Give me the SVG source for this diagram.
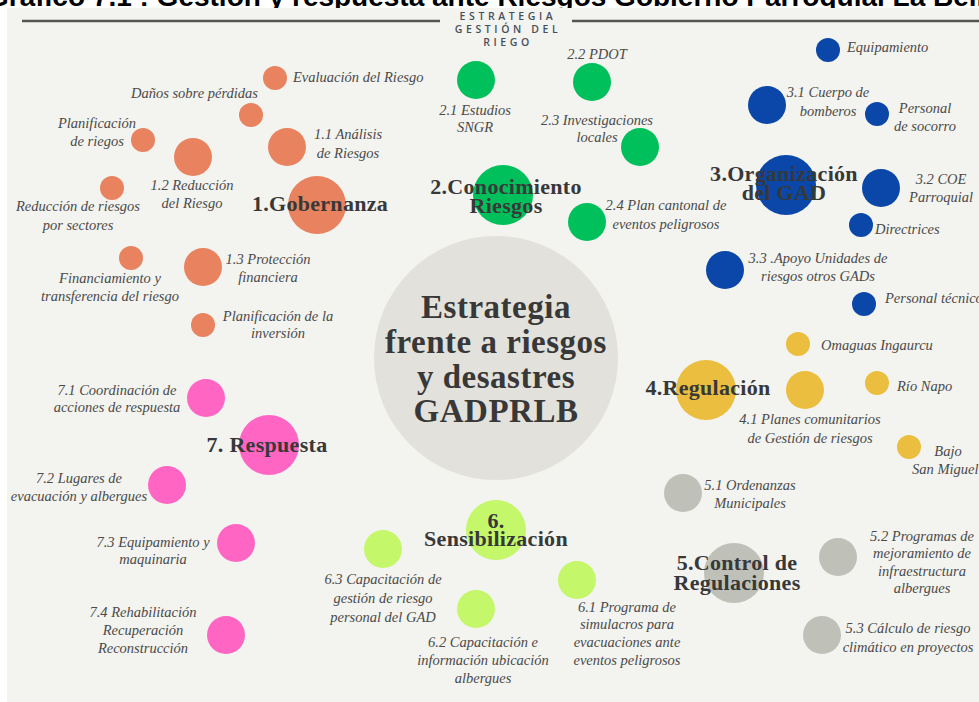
<svg xmlns="http://www.w3.org/2000/svg" width="979" height="702" viewBox="0 0 979 702">
<style>
.lbl{font-family:"Liberation Serif",serif;font-style:italic;font-size:14.5px;fill:#4a4a4a}
.m{text-anchor:middle}
.e{text-anchor:end}
.big{font-family:"Liberation Serif",serif;font-weight:bold;font-size:22px;fill:#383838;letter-spacing:0.3px;text-anchor:middle}
.ctr{font-family:"Liberation Serif",serif;font-weight:bold;font-size:33px;fill:#383838;letter-spacing:0.5px;text-anchor:middle}
.hdr{font-family:"Open Sans","Liberation Sans",sans-serif;font-weight:600;font-size:10.5px;fill:#47505a;letter-spacing:3.6px;text-anchor:middle}
.o{fill:#e8825f}.g{fill:#00c05c}.b{fill:#0a47a8}.y{fill:#ecbe3f}.gr{fill:#bfc0b7}.l{fill:#c4f76a}.p{fill:#ff66c4}
</style>
<rect width="979" height="702" fill="#ffffff"/>
<text x="-13" y="6" font-family="Liberation Sans, Arial, sans-serif" font-weight="bold" font-size="28" fill="#000">Gráfico 7.1 : Gestión y respuesta ante Riesgos Gobierno Parroquial La Belleza</text>
<rect x="7" y="8" width="972" height="694" fill="#f3f3ef"/>
<g id="header">
<line x1="22" y1="21" x2="440" y2="21" stroke="#555" stroke-width="2.5"/>
<line x1="572" y1="21" x2="979" y2="21" stroke="#555" stroke-width="2.5"/>
<text class="hdr" x="508" y="20">ESTRATEGIA</text>
<text class="hdr" x="508" y="33">GESTIÓN DEL</text>
<text class="hdr" x="508" y="46">RIEGO</text>
</g>
<g id="connectors"/>
<g id="center">
<circle cx="496" cy="358" r="122" fill="#e3e1db"/>
<text class="ctr" x="496" y="318">Estrategia</text>
<text class="ctr" x="496" y="353">frente a riesgos</text>
<text class="ctr" x="496" y="388">y desastres</text>
<text class="ctr" x="496" y="422">GADPRLB</text>
</g>
<!-- Orange -->
<g id="evaluacion"><circle class="o" cx="275" cy="78" r="12"/><text class="lbl" x="293" y="82">Evaluación del Riesgo</text></g>
<g id="danos"><circle class="o" cx="251" cy="115" r="12"/><text class="lbl e" x="258" y="98">Daños sobre pérdidas</text></g>
<g id="planificacion-riegos"><circle class="o" cx="143" cy="140" r="12"/><text class="lbl m" x="97" y="128">Planificación</text><text class="lbl m" x="97" y="146">de riegos</text></g>
<g id="n1-1"><circle class="o" cx="287" cy="147" r="19"/><text class="lbl m" x="348" y="139">1.1 Análisis</text><text class="lbl m" x="348" y="158">de Riesgos</text></g>
<g id="n1-2"><circle class="o" cx="193" cy="157" r="19"/><text class="lbl m" x="192" y="190">1.2 Reducción</text><text class="lbl m" x="192" y="208">del Riesgo</text></g>
<g id="reduccion-sectores"><circle class="o" cx="112" cy="188" r="12"/><text class="lbl m" x="78" y="211">Reducción de riesgos</text><text class="lbl m" x="78" y="230">por sectores</text></g>
<g id="n1"><circle class="o" cx="317" cy="205" r="29"/><text class="big" x="320" y="211">1.Gobernanza</text></g>
<g id="financiamiento"><circle class="o" cx="131" cy="258" r="12"/><text class="lbl m" x="110" y="283">Financiamiento y</text><text class="lbl m" x="110" y="301">transferencia del riesgo</text></g>
<g id="n1-3"><circle class="o" cx="203" cy="267" r="19"/><text class="lbl m" x="268" y="264">1.3 Protección</text><text class="lbl m" x="268" y="282">financiera</text></g>
<g id="planificacion-inversion"><circle class="o" cx="203" cy="325" r="12"/><text class="lbl m" x="278" y="321">Planificación de la</text><text class="lbl m" x="278" y="338">inversión</text></g>
<!-- Green -->
<g id="n2-1"><circle class="g" cx="476" cy="80" r="19"/><text class="lbl m" x="475" y="115">2.1 Estudios</text><text class="lbl m" x="475" y="132">SNGR</text></g>
<g id="n2-2"><circle class="g" cx="592" cy="82" r="19"/><text class="lbl m" x="597" y="59">2.2 PDOT</text></g>
<g id="n2-3"><circle class="g" cx="640" cy="147" r="19"/><text class="lbl m" x="597" y="125">2.3 Investigaciones</text><text class="lbl m" x="597" y="142">locales</text></g>
<g id="n2"><circle class="g" cx="503" cy="195" r="30"/><text class="big" x="506" y="194">2.Conocimiento</text><text class="big" x="506" y="213">Riesgos</text></g>
<g id="n2-4"><circle class="g" cx="587" cy="222" r="19"/><text class="lbl m" x="666" y="210">2.4 Plan cantonal de</text><text class="lbl m" x="666" y="229">eventos peligrosos</text></g>
<!-- Blue -->
<g id="equipamiento"><circle class="b" cx="828" cy="50" r="12"/><text class="lbl" x="847" y="52">Equipamiento</text></g>
<g id="n3-1"><circle class="b" cx="767" cy="105" r="19"/><text class="lbl m" x="828" y="97">3.1 Cuerpo de</text><text class="lbl m" x="828" y="116">bomberos</text></g>
<g id="personal-socorro"><circle class="b" cx="877" cy="114" r="12"/><text class="lbl m" x="925" y="113">Personal</text><text class="lbl m" x="925" y="131">de socorro</text></g>
<g id="n3"><circle class="b" cx="786" cy="185" r="30"/><text class="big" x="784" y="181">3.Organización</text><text class="big" x="784" y="200">del GAD</text></g>
<g id="n3-2"><circle class="b" cx="881" cy="188" r="19"/><text class="lbl m" x="941" y="184">3.2 COE</text><text class="lbl m" x="941" y="202">Parroquial</text></g>
<g id="directrices"><circle class="b" cx="861" cy="225" r="12"/><text class="lbl" x="875" y="234">Directrices</text></g>
<g id="n3-3"><circle class="b" cx="725" cy="270" r="19"/><text class="lbl m" x="818" y="263">3.3 .Apoyo Unidades de</text><text class="lbl m" x="818" y="281">riesgos otros GADs</text></g>
<g id="personal-tecnico"><circle class="b" cx="864" cy="304" r="12"/><text class="lbl" x="885" y="303">Personal técnico</text></g>
<!-- Yellow -->
<g id="omaguas"><circle class="y" cx="798" cy="344" r="12"/><text class="lbl" x="821" y="350">Omaguas Ingaurcu</text></g>
<g id="n4"><circle class="y" cx="706" cy="390" r="30"/><text class="big" x="708" y="395">4.Regulación</text></g>
<g id="n4-1"><circle class="y" cx="805" cy="390" r="19"/><text class="lbl m" x="810" y="424">4.1 Planes comunitarios</text><text class="lbl m" x="810" y="443">de Gestión de riesgos</text></g>
<g id="rio-napo"><circle class="y" cx="877" cy="383" r="12"/><text class="lbl" x="897" y="391">Río Napo</text></g>
<g id="bajo-san-miguel"><circle class="y" cx="909" cy="447" r="12"/><text class="lbl m" x="948" y="456">Bajo</text><text class="lbl" x="912" y="474">San Miguel</text></g>
<!-- Gray -->
<g id="n5-1"><circle class="gr" cx="683" cy="493" r="19"/><text class="lbl m" x="750" y="490">5.1 Ordenanzas</text><text class="lbl m" x="750" y="508">Municipales</text></g>
<g id="n5-2"><circle class="gr" cx="838" cy="557" r="19"/><text class="lbl m" x="922" y="541">5.2 Programas de</text><text class="lbl m" x="922" y="558">mejoramiento de</text><text class="lbl m" x="922" y="576">infraestructura</text><text class="lbl m" x="922" y="593">albergues</text></g>
<g id="n5"><circle class="gr" cx="734" cy="573" r="30"/><text class="big" x="737" y="570">5.Control de</text><text class="big" x="737" y="590">Regulaciones</text></g>
<g id="n5-3"><circle class="gr" cx="822" cy="635" r="19"/><text class="lbl m" x="908" y="633">5.3 Cálculo de riesgo</text><text class="lbl m" x="908" y="652">climático en proyectos</text></g>
<!-- Lime -->
<g id="n6"><circle class="l" cx="496" cy="530" r="30"/><text class="big" x="496" y="528">6.</text><text class="big" x="496" y="546">Sensibilización</text></g>
<g id="n6-3"><circle class="l" cx="383" cy="549" r="19"/><text class="lbl m" x="383" y="584">6.3 Capacitación de</text><text class="lbl m" x="383" y="603">gestión de riesgo</text><text class="lbl m" x="383" y="622">personal del GAD</text></g>
<g id="n6-2"><circle class="l" cx="476" cy="609" r="19"/><text class="lbl m" x="483" y="647">6.2 Capacitación e</text><text class="lbl m" x="483" y="665">información ubicación</text><text class="lbl m" x="483" y="683">albergues</text></g>
<g id="n6-1"><circle class="l" cx="577" cy="580" r="19"/><text class="lbl m" x="627" y="612">6.1 Programa de</text><text class="lbl m" x="627" y="629">simulacros para</text><text class="lbl m" x="627" y="647">evacuaciones ante</text><text class="lbl m" x="627" y="665">eventos peligrosos</text></g>
<!-- Pink -->
<g id="n7-1"><circle class="p" cx="206" cy="398" r="19"/><text class="lbl m" x="117" y="395">7.1 Coordinación de</text><text class="lbl m" x="117" y="412">acciones de respuesta</text></g>
<g id="n7"><circle class="p" cx="269" cy="445" r="30"/><text class="big" x="267" y="452">7. Respuesta</text></g>
<g id="n7-2"><circle class="p" cx="167" cy="485" r="19"/><text class="lbl m" x="79" y="483">7.2 Lugares de</text><text class="lbl m" x="79" y="501">evacuación y albergues</text></g>
<g id="n7-3"><circle class="p" cx="236" cy="543" r="19"/><text class="lbl m" x="153" y="547">7.3 Equipamiento y</text><text class="lbl m" x="153" y="564">maquinaria</text></g>
<g id="n7-4"><circle class="p" cx="226" cy="635" r="19"/><text class="lbl m" x="143" y="617">7.4 Rehabilitación</text><text class="lbl m" x="143" y="635">Recuperación</text><text class="lbl m" x="143" y="653">Reconstrucción</text></g>
</svg>
